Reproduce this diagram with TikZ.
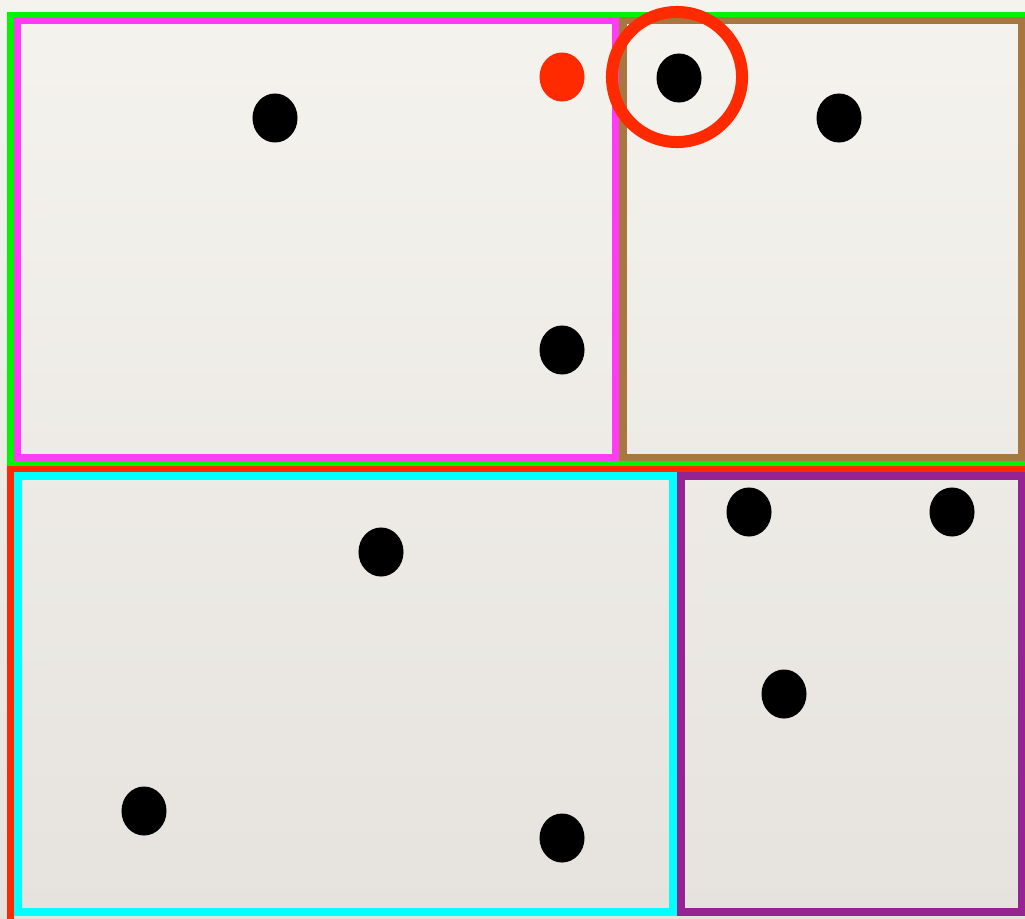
\documentclass[tikz,border=0pt]{standalone}
\usetikzlibrary{shapes.geometric}
\definecolor{paperhi}{HTML}{F5F3EE}
\definecolor{paperlo}{HTML}{E6E3DE}
\definecolor{lgreen}{HTML}{00F500}
\definecolor{lmagenta}{HTML}{FF3CF5}
\definecolor{lbrown}{HTML}{A8773F}
\definecolor{lred}{HTML}{FF2A00}
\definecolor{lcyan}{HTML}{00FFFF}
\definecolor{lpurple}{HTML}{952391}
\tikzset{frame/.style={
    draw,
    line width=0.07cm
  },
  gframe/.style={frame,draw=lgreen},
  rframe/.style={frame,draw=lred},
  mframe/.style={frame,draw=lmagenta,line width=0.075cm},
  bframe/.style={frame,draw=lbrown,line width=0.075cm},
  cframe/.style={frame,draw=lcyan,line width=0.08cm},
  pframe/.style={frame,draw=lpurple,line width=0.08cm},
  dot/.style={
    ellipse,
    fill=black,
    inner sep=0pt,
    minimum width=0.45cm,
    minimum height=0.49cm
  },
  reddot/.style={dot,fill=lred},
  ring/.style={circle,draw=lred,line width=0.12cm,minimum size=1.30cm,inner sep=0pt},
}
\begin{document}
\begin{tikzpicture}[x=0.01cm,y=-0.01cm]
  \useasboundingbox (0,0) rectangle (1025,918);
  \clip (0,0) rectangle (1025,918);
  % paper
  \shade[top color=paperhi,bottom color=paperlo] (0,0) rectangle (1025,918);
  % outer frames
  \draw[gframe] (10.5,15.5) rectangle (1040,462.5);
  \draw[rframe] (10.5,469.5) rectangle (1040,930);
  % inner frames
  \draw[mframe] (17.5,20.5) rectangle (615.5,457.5);
  \draw[bframe] (623,20.5) rectangle (1021.5,457.5);
  \draw[cframe] (18,476) rectangle (673,912);
  \draw[pframe] (681,476) rectangle (1021.5,912);
  % points, top half
  \node[dot] (ta) at (275,118) {};
  \node[reddot] (tb) at (562,77) {};
  \node[dot] (tc) at (679,78) {};
  \node[dot] (td) at (839,118) {};
  \node[dot] (te) at (562,350) {};
  \node[ring] (sel) at (677,77) {};
  % points, bottom half
  \node[dot] (ba) at (381,552) {};
  \node[dot] (bb) at (749,512) {};
  \node[dot] (bc) at (952,512) {};
  \node[dot] (bd) at (784,694) {};
  \node[dot] (be) at (144,811) {};
  \node[dot] (bf) at (562,838) {};
\end{tikzpicture}
\end{document}
